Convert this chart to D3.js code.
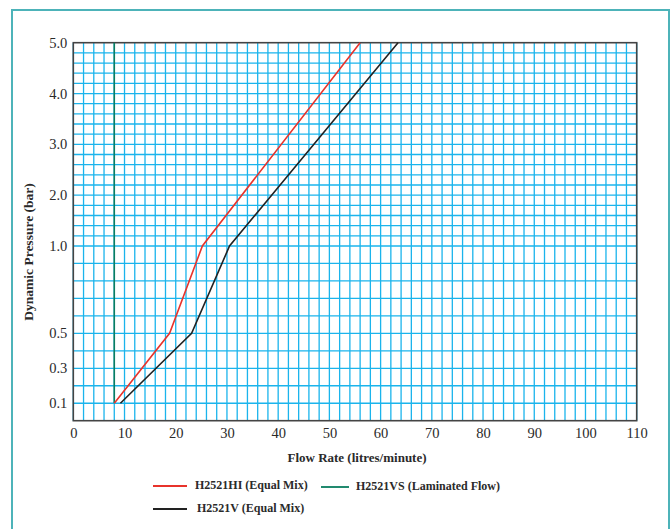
<!DOCTYPE html>
<html>
<head>
<meta charset="utf-8">
<script src="https://cdn.jsdelivr.net/npm/d3@7"></script>
<style>
  html, body { margin: 0; padding: 0; background: #fff; }
  svg { display: block; }
  text { font-family: "Liberation Serif", "DejaVu Serif", serif; fill: #2a2a2a; }
</style>
</head>
<body>
<svg id="chart" width="672" height="529"></svg>
<script>
// ---- data ----
const xTicks = [0, 10, 20, 30, 40, 50, 60, 70, 80, 90, 100, 110];
const yTicks = [0.1, 0.3, 0.5, 1.0, 2.0, 3.0, 4.0, 5.0];
const yTickLabels = ["0.1", "0.3", "0.5", "1.0", "2.0", "3.0", "4.0", "5.0"];

const hiFlow = [8.0, 18.8, 25.2, 56.0];
const hiPressure = [0.1, 0.5, 1.0, 5.0];
const vFlow = [9.2, 23.1, 30.5, 63.4];
const vPressure = [0.1, 0.5, 1.0, 5.0];
const vsFlow = [8.0, 8.0];
const vsPressure = [0.1, 5.0];

const seriesNames = ["H2521HI (Equal Mix)", "H2521V (Equal Mix)", "H2521VS (Laminated Flow)"];
const seriesColors = ["#e8332b", "#222222", "#0a7d5f"];

// ---- layout ----
const svg = d3.select("#chart");
const pLeft = 73.3, pRight = 636.7, pTop = 42.7, pBottom = 420.7, pOne = 246;

const x = d3.scaleLinear().domain([0, 110]).range([pLeft, pRight]);
const y = d3.scaleLinear().domain([0, 1, 5]).range([pBottom, pOne, pTop]);

// outer teal frame
svg.append("rect")
  .attr("x", 12).attr("y", 10).attr("width", 657).attr("height", 540)
  .attr("fill", "none").attr("stroke", "#4db3b9").attr("stroke-width", 2);

// grid
const gridColor = "#1ab4ec";
const vGrid = d3.range(0, 111, 2);
const hGrid = d3.range(1, 10).map(d => d / 10).concat(d3.range(5, 25).map(d => d / 5));
svg.append("g").selectAll("line").data(vGrid).join("line")
  .attr("x1", d => x(d)).attr("x2", d => x(d))
  .attr("y1", y(0)).attr("y2", y(5))
  .attr("stroke", gridColor).attr("stroke-width", 1.3);
svg.append("g").selectAll("line").data(hGrid).join("line")
  .attr("x1", x(0)).attr("x2", x(110))
  .attr("y1", d => y(d)).attr("y2", d => y(d))
  .attr("stroke", gridColor).attr("stroke-width", 1.3);

// frame
svg.append("rect")
  .attr("x", x(0)).attr("y", y(5))
  .attr("width", x(110) - x(0)).attr("height", y(0) - y(5))
  .attr("fill", "none").attr("stroke", "#444").attr("stroke-width", 1.6);

// axes (labels only)
const xAxis = d3.axisBottom(x).tickValues(xTicks).tickSize(0).tickPadding(7).tickFormat(d3.format("d"));
const gx = svg.append("g").attr("transform", `translate(0,${pBottom})`).call(xAxis);
gx.select(".domain").remove();
gx.selectAll("text").attr("font-size", 14.5).attr("font-family", "Liberation Serif").attr("fill", "#2a2a2a");

const yAxis = d3.axisLeft(y).tickValues(yTicks).tickSize(0).tickPadding(6)
  .tickFormat((d, i) => yTickLabels[i]);
const gy = svg.append("g").attr("transform", `translate(${pLeft},0)`).call(yAxis);
gy.select(".domain").remove();
gy.selectAll("text").attr("font-size", 14.5).attr("font-family", "Liberation Serif").attr("fill", "#2a2a2a");

// series
const line = d3.line().x(d => x(d[0])).y(d => y(d[1]));
const series = [
  d3.zip(hiFlow, hiPressure),
  d3.zip(vFlow, vPressure),
  d3.zip(vsFlow, vsPressure)
];
[2, 1, 0].forEach(i => {
  svg.append("path").datum(series[i])
    .attr("d", line).attr("fill", "none")
    .attr("stroke", seriesColors[i]).attr("stroke-width", 1.6);
});

// titles
svg.append("text")
  .attr("transform", `translate(30,252) rotate(-90)`)
  .attr("text-anchor", "middle").attr("dominant-baseline", "middle")
  .attr("font-size", 13.5).attr("font-weight", "bold")
  .text("Dynamic Pressure (bar)");
svg.append("text")
  .attr("x", 357).attr("y", 462)
  .attr("text-anchor", "middle")
  .attr("font-size", 13).attr("font-weight", "bold")
  .text("Flow Rate (litres/minute)");

// legend
const legendLayout = [
  { x: 153, y: 486, len: 34, tx: 195 },
  { x: 153, y: 509, len: 34, tx: 197 },
  { x: 321, y: 487, len: 28, tx: 356 }
];
seriesNames.forEach((name, i) => {
  const l = legendLayout[i];
  svg.append("line")
    .attr("x1", l.x).attr("x2", l.x + l.len).attr("y1", l.y).attr("y2", l.y)
    .attr("stroke", seriesColors[i]).attr("stroke-width", 1.8);
  svg.append("text")
    .attr("x", l.tx).attr("y", l.y)
    .attr("dominant-baseline", "middle")
    .attr("font-size", 12).attr("font-weight", "bold")
    .text(name);
});
</script>
</body>
</html>
